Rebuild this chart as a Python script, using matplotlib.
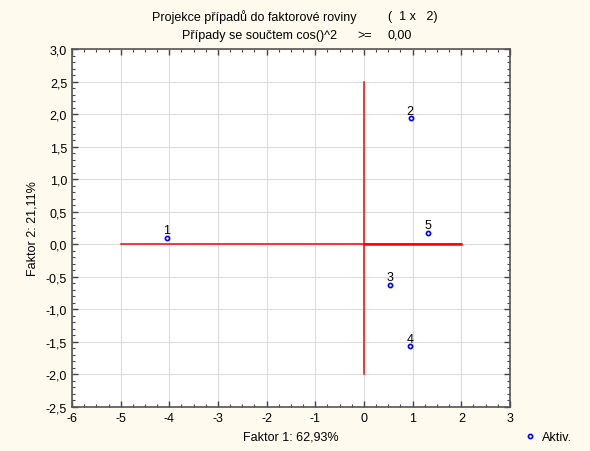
import matplotlib.pyplot as plt
from matplotlib.ticker import MultipleLocator, FuncFormatter

plt.rcParams['font.family'] = ['Liberation Sans', 'DejaVu Sans']

labels = ['1', '2', '3', '4', '5']
faktor1 = [-4.04, 0.96, 0.54, 0.95, 1.32]
faktor2 = [0.10, 1.94, -0.62, -1.57, 0.18]

fig = plt.figure(figsize=(5.9, 4.52), dpi=100, facecolor='#fffaee')
ax = fig.add_axes([72 / 590, 1 - 408 / 452, 438 / 590, 358 / 452])
ax.set_facecolor('white')

# red axis cross
ax.plot([-5, 2], [0, 0], color='red', lw=1.1, zorder=2)
ax.plot([0, 2], [0, 0], color='red', lw=1.8, zorder=2)
ax.plot([0, 0], [-2, 2.5], color='red', lw=1.1, zorder=2)

ax.plot(faktor1, faktor2, 'o', ms=3, mfc='white', mec='blue', mew=1.2,
        ls='none', zorder=3, label='Aktiv.')
for lab, x, y in zip(labels, faktor1, faktor2):
    ax.text(x - 0.01, y + 0.02, lab, fontsize=9, ha='center', va='bottom', zorder=4)

ax.set_xlim(-6, 3)
ax.set_ylim(-2.5, 3)
ax.xaxis.set_major_locator(MultipleLocator(1))
ax.xaxis.set_minor_locator(MultipleLocator(0.25))
ax.yaxis.set_major_locator(MultipleLocator(0.5))
ax.yaxis.set_minor_locator(MultipleLocator(0.1))
ax.yaxis.set_major_formatter(FuncFormatter(lambda v, p: f'{v:.1f}'.replace('.', ',')))
ax.xaxis.set_major_formatter(FuncFormatter(lambda v, p: f'{v:.0f}'))
ax.grid(True, which='major', color='#dcdcdc', lw=0.8, zorder=0)
ax.set_axisbelow(True)
ax.tick_params(which='both', direction='in', top=True, right=True, colors='#444444',
               labelcolor='black', labelsize=9)
ax.tick_params(which='major', length=4, width=1)
ax.tick_params(which='minor', length=2, width=0.8)
for s in ax.spines.values():
    s.set_color('#555555')
    s.set_linewidth(1.2)

ax.set_xlabel('Faktor 1: 62,93%', fontsize=9, labelpad=5)
ax.set_ylabel('Faktor 2: 21,11%', fontsize=9, labelpad=5)

W, H = 590, 452
fig.text(152 / W, 1 - 17 / H, 'Projekce případů do faktorové roviny', ha='left', va='center', fontsize=9)
fig.text(388 / W, 1 - 17 / H, '(  1 x   2)', ha='left', va='center', fontsize=9)
fig.text(182 / W, 1 - 36 / H, 'Případy se součtem cos()^2', ha='left', va='center', fontsize=9)
fig.text(357 / W, 1 - 36 / H, '>=', ha='left', va='center', fontsize=9)
fig.text(388 / W, 1 - 36 / H, '0,00', ha='left', va='center', fontsize=9)

fig.legend(loc='center left', bbox_to_anchor=(517 / W, 1 - 438 / H), frameon=False,
           fontsize=9, handlelength=1, handletextpad=0.5, borderpad=0)

fig.savefig('out.png', dpi=100, facecolor=fig.get_facecolor())
